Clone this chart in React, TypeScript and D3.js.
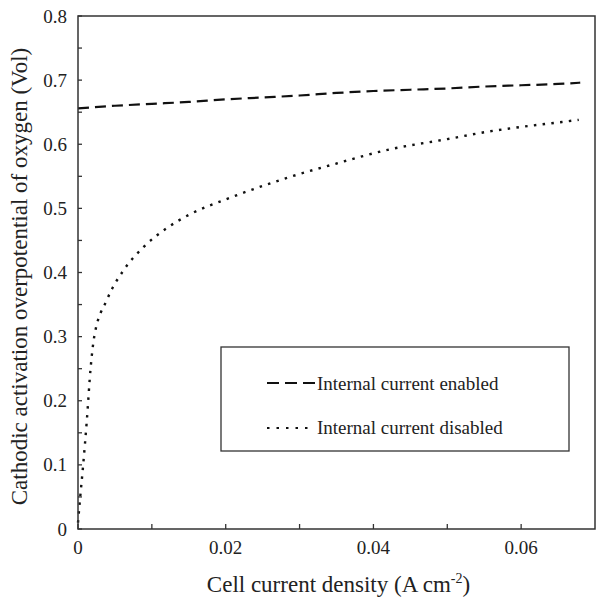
import React from "react";
import * as d3 from "d3";

const enabledX = [0, 0.005, 0.01, 0.015, 0.02, 0.025, 0.03, 0.035, 0.04, 0.045, 0.05, 0.055, 0.06, 0.065, 0.068];
const enabledY = [0.656, 0.66, 0.663, 0.666, 0.670, 0.673, 0.676, 0.680, 0.683, 0.685, 0.687, 0.690, 0.692, 0.694, 0.696];

const disabledX = [0, 0.0003, 0.0007, 0.0012, 0.0017, 0.0022, 0.0039, 0.0062, 0.0089, 0.012, 0.0152, 0.02, 0.025, 0.0287, 0.035, 0.0422, 0.05, 0.0557, 0.06, 0.065, 0.0678];
const disabledY = [0.01, 0.05, 0.10, 0.17, 0.25, 0.30, 0.357, 0.404, 0.44, 0.469, 0.491, 0.514, 0.535, 0.549, 0.570, 0.592, 0.608, 0.620, 0.627, 0.634, 0.638];

const xMajorTicks = [0, 0.02, 0.04, 0.06];
const xMinorTicks = [0.01, 0.03, 0.05];
const yMajorTicks = [0, 0.1, 0.2, 0.3, 0.4, 0.5, 0.6, 0.7, 0.8];
const yMinorTicks = [0.05, 0.15, 0.25, 0.35, 0.45, 0.55, 0.65, 0.75];

const legendLabels = ["Internal current enabled", "Internal current disabled"];
const xTitle = "Cell current density (A cm";
const yTitle = "Cathodic activation overpotential of oxygen (Vol)";

export default function App() {
  const W = 602, H = 597;
  const left = 78, right = 595, top = 16, bottom = 529;
  const x = d3.scaleLinear().domain([0, 0.07]).range([left, right]);
  const y = d3.scaleLinear().domain([0, 0.8]).range([bottom, top]);
  const line = d3.line<[number, number]>().x(d => x(d[0])).y(d => y(d[1])).curve(d3.curveMonotoneX);
  const enabled = enabledX.map((v, i) => [v, enabledY[i]] as [number, number]);
  const disabled = disabledX.map((v, i) => [v, disabledY[i]] as [number, number]);
  const font = "'Liberation Serif', 'Times New Roman', serif";
  const axisColor = "#333";
  const fmtX = (v: number) => (v === 0 ? "0" : d3.format(".2f")(v));
  const fmtY = (v: number) => (v === 0 ? "0" : d3.format(".1f")(v));

  return (
    <svg width={W} height={H} style={{ position: "absolute", left: 0, top: 0, background: "#fff" }} fontFamily={font}>
      <rect x={0} y={0} width={W} height={H} fill="#fff" />
      {/* curves */}
      <path d={line(enabled) || ""} fill="none" stroke="#111" strokeWidth={2.2} strokeDasharray="11,6" />
      <path d={line(disabled) || ""} fill="none" stroke="#111" strokeWidth={2.4} strokeDasharray="2.5,6.3" />
      {/* frame */}
      <rect x={left} y={top} width={right - left} height={bottom - top} fill="none" stroke={axisColor} strokeWidth={1.5} />
      {/* x ticks */}
      {xMajorTicks.concat(xMinorTicks).map((t, i) => (
        <line key={"xt" + i} x1={x(t)} x2={x(t)} y1={bottom} y2={bottom - 5} stroke={axisColor} strokeWidth={1.3} />
      ))}
      {xMajorTicks.map((t, i) => (
        <text key={"xl" + i} x={x(t)} y={554} textAnchor="middle" fontSize={19} fill="#222">{fmtX(t)}</text>
      ))}
      {/* y ticks */}
      {yMajorTicks.concat(yMinorTicks).map((t, i) => (
        <line key={"yt" + i} x1={left} x2={left + 4} y1={y(t)} y2={y(t)} stroke={axisColor} strokeWidth={1.3} />
      ))}
      {yMajorTicks.map((t, i) => (
        <text key={"yl" + i} x={67} y={y(t) + 6.5} textAnchor="end" fontSize={19} fill="#222">{fmtY(t)}</text>
      ))}
      {/* axis titles */}
      <text x={(left + right) / 2 + 2} y={592} textAnchor="middle" fontSize={23} fill="#222">
        {xTitle}
        <tspan dy={-9} fontSize={14}>-2</tspan>
        <tspan dy={9}>)</tspan>
      </text>
      <text transform={`translate(27,${(top + bottom) / 2 + 4}) rotate(-90)`} textAnchor="middle" fontSize={23} fill="#222">{yTitle}</text>
      {/* legend */}
      <rect x={221} y={347} width={348} height={104} fill="#fff" stroke={axisColor} strokeWidth={1.3} />
      <line x1={267} x2={315} y1={383} y2={383} stroke="#111" strokeWidth={2} strokeDasharray="12,6" />
      <line x1={267} x2={308} y1={428} y2={428} stroke="#111" strokeWidth={2} strokeDasharray="2.5,7" />
      <text x={317} y={390} fontSize={19} fill="#222">{legendLabels[0]}</text>
      <text x={317} y={434} fontSize={19} fill="#222">{legendLabels[1]}</text>
    </svg>
  );
}
